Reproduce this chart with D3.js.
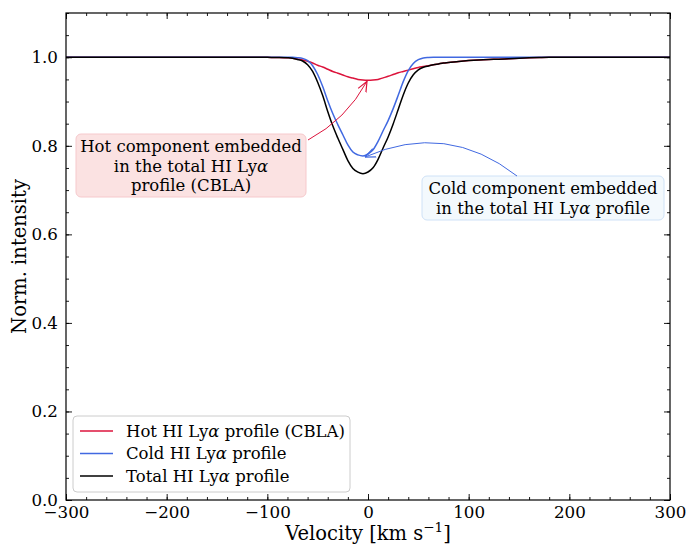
<!DOCTYPE html>
<html>
<head>
<meta charset="utf-8">
<script src="https://cdn.jsdelivr.net/npm/d3@7"></script>
<style>
  html, body { margin: 0; padding: 0; background: #fff; }
  svg text { font-family: "DejaVu Serif", serif !important; fill: #000; }
</style>
</head>
<body>
<svg id="chart" width="686" height="544"></svg>
<script>
// Velocity grid (km/s) and normalised Ly-alpha intensities
const velocity = [-300, -200, -150, -120, -100, -90, -80, -75, -70, -65, -60, -55, -50, -45, -40, -35, -30, -25, -20, -15, -10, -5, 0, 5, 10, 15, 20, 25, 30, 35, 40, 45, 50, 55, 60, 65, 70, 75, 80, 90, 100, 110, 120, 130, 140, 150, 160, 170, 180, 200, 300];

const hotProfile = [1.0, 1.0, 1.0, 1.0, 0.9998, 0.9995, 0.9988, 0.998, 0.996, 0.994, 0.991, 0.987, 0.982, 0.978, 0.973, 0.968, 0.964, 0.960, 0.956, 0.953, 0.950, 0.9485, 0.948, 0.9485, 0.950, 0.9535, 0.957, 0.961, 0.965, 0.968, 0.971, 0.974, 0.977, 0.979, 0.981, 0.983, 0.985, 0.987, 0.988, 0.9905, 0.9925, 0.994, 0.995, 0.9957, 0.9968, 0.9978, 0.9988, 0.9995, 1.0, 1.0, 1.0];

const coldProfile = [1.0, 1.0, 1.0, 1.0, 1.0, 1.0, 1.0, 0.9998, 0.9991, 0.9975, 0.9922, 0.981, 0.961, 0.934, 0.902, 0.873, 0.848, 0.825, 0.802, 0.786, 0.7795, 0.777, 0.7815, 0.791, 0.810, 0.834, 0.857, 0.884, 0.914, 0.945, 0.970, 0.986, 0.9945, 0.9985, 0.9995, 1.0, 1.0, 1.0, 1.0, 1.0, 1.0, 1.0, 1.0, 1.0, 1.0, 1.0, 1.0, 1.0, 1.0, 1.0, 1.0];

const totalProfile = [1.0, 1.0, 1.0, 1.0, 0.9998, 0.9995, 0.9988, 0.9978, 0.9951, 0.9915, 0.9833, 0.9682, 0.9437, 0.9135, 0.8776, 0.8451, 0.8175, 0.792, 0.7667, 0.749, 0.7405, 0.737, 0.7409, 0.7503, 0.7695, 0.7952, 0.8201, 0.8495, 0.882, 0.9148, 0.9419, 0.9604, 0.9716, 0.9775, 0.9805, 0.983, 0.985, 0.987, 0.988, 0.9905, 0.9925, 0.994, 0.995, 0.9957, 0.9968, 0.9978, 0.9988, 0.9995, 1.0, 1.0, 1.0];

const xTicks = [-300, -200, -100, 0, 100, 200, 300];
const yTicks = [0.0, 0.2, 0.4, 0.6, 0.8, 1.0];

const seriesNames = ["Hot HI Ly", "Cold HI Ly", "Total HI Ly"];
const seriesSuffix = [" profile (CBLA)", " profile", " profile"];
const seriesColors = ["#dc143c", "#4169e1", "#000000"];

const svg = d3.select("#chart");
const margin = {left: 66, right: 16, top: 13, bottom: 44};
const W = 686, H = 544;

const x = d3.scaleLinear().domain([-300, 300]).range([margin.left, W - margin.right]);
const y = d3.scaleLinear().domain([0, 1.1]).range([H - margin.bottom, margin.top]);

const fontTick = 16.7;
const fontText = 16.5;
const fontLabel = 19.5;

// Profiles
const line = d3.line().x((d, i) => x(velocity[i])).y(d => y(d)).curve(d3.curveMonotoneX);
svg.append("clipPath").attr("id", "plotclip").append("rect")
  .attr("x", margin.left).attr("y", margin.top)
  .attr("width", W - margin.left - margin.right).attr("height", H - margin.top - margin.bottom);

const curves = svg.append("g").attr("clip-path", "url(#plotclip)");
[hotProfile, coldProfile, totalProfile].forEach((vals, k) => {
  curves.append("path").datum(vals)
    .attr("d", line)
    .attr("fill", "none")
    .attr("stroke", seriesColors[k])
    .attr("stroke-width", 1.5);
});

// Axes with inward ticks on all four sides
function addAxis(axisGen, transform) {
  const g = svg.append("g").attr("transform", transform).call(axisGen);
  g.select(".domain").remove();
  g.selectAll("line").attr("stroke", "#000").attr("stroke-width", 0.9);
  g.selectAll("text").attr("font-size", fontTick).style("font-family", "'DejaVu Serif', serif").attr("fill", "#000");
  return g;
}
const xMinor = d3.range(-300, 301, 20);
const yMinor = d3.range(0, 1.1001, 0.05);
const bottomY = H - margin.bottom, rightX = W - margin.right;

addAxis(d3.axisBottom(x).tickValues(xMinor).tickSize(-3).tickFormat(""), `translate(0,${bottomY})`);
addAxis(d3.axisTop(x).tickValues(xMinor).tickSize(-3).tickFormat(""), `translate(0,${margin.top})`);
addAxis(d3.axisLeft(y).tickValues(yMinor).tickSize(-3).tickFormat(""), `translate(${margin.left},0)`);
addAxis(d3.axisRight(y).tickValues(yMinor).tickSize(-3).tickFormat(""), `translate(${rightX},0)`);

const fmtX = v => (v < 0 ? "\u2212" + Math.abs(v) : String(v));
addAxis(d3.axisBottom(x).tickValues(xTicks).tickSize(-6).tickPadding(6).tickFormat(fmtX), `translate(0,${bottomY})`);
addAxis(d3.axisTop(x).tickValues(xTicks).tickSize(-6).tickFormat(""), `translate(0,${margin.top})`);
addAxis(d3.axisLeft(y).tickValues(yTicks).tickSize(-6).tickPadding(8).tickFormat(d3.format(".1f")), `translate(${margin.left},0)`);
addAxis(d3.axisRight(y).tickValues(yTicks).tickSize(-6).tickFormat(""), `translate(${rightX},0)`);

// Frame
svg.append("rect")
  .attr("x", margin.left).attr("y", margin.top)
  .attr("width", W - margin.left - margin.right).attr("height", H - margin.top - margin.bottom)
  .attr("fill", "none").attr("stroke", "#000").attr("stroke-width", 1.2);

// Axis titles
const xt = svg.append("text").attr("x", x(0)).attr("y", 540).attr("text-anchor", "middle").attr("font-size", fontLabel);
xt.append("tspan").text("Velocity [km s");
xt.append("tspan").attr("dy", -8).attr("font-size", 13.5).text("\u22121");
xt.append("tspan").attr("dy", 8).text("]");

svg.append("text")
  .attr("transform", `translate(26,${(margin.top + bottomY) / 2}) rotate(-90)`)
  .attr("text-anchor", "middle").attr("font-size", fontLabel)
  .text("Norm. intensity");

// Arrow markers
const defs = svg.append("defs");
function marker(id, color) {
  defs.append("marker").attr("id", id)
    .attr("viewBox", "0 0 10 10").attr("refX", 9.5).attr("refY", 5)
    .attr("markerWidth", 11).attr("markerHeight", 11).attr("markerUnits", "userSpaceOnUse")
    .attr("orient", "auto")
    .append("path").attr("d", "M0,1 L9.5,5 L0,9").attr("fill", "none")
    .attr("stroke", color).attr("stroke-width", 1.1);
}
marker("arrHot", seriesColors[0]);
marker("arrCold", seriesColors[1]);

const hotMin = {v: 0, val: d3.min(hotProfile)};
const coldMin = {v: -5, val: d3.min(coldProfile)};

// Annotation boxes
function annotation(cx, lines, fill, stroke, topY, boxW, boxH) {
  const g = svg.append("g");
  g.append("rect").attr("x", cx - boxW / 2).attr("y", topY).attr("width", boxW).attr("height", boxH)
    .attr("rx", 5).attr("fill", fill).attr("stroke", stroke).attr("stroke-width", 1);
  const t = g.append("text").attr("text-anchor", "middle").attr("font-size", fontText);
  lines.forEach((ln, i) => {
    const ts = t.append("tspan").attr("x", cx).attr("y", topY + 18 + i * 19.5);
    ln.forEach(part => {
      const p = ts.append("tspan").text(part[0]);
      if (part[1]) p.attr("font-style", "italic");
    });
  });
  return g;
}

annotation(191, [[["Hot component embedded"]], [["in the total HI Ly"], ["\u03b1", true]], [["profile (CBLA)"]]],
  "#fbe2e2", "#f6c9cc", 134, 230, 63);
annotation(543, [[["Cold component embedded"]], [["in the total HI Ly"], ["\u03b1", true], [" profile"]]],
  "#f3f9fd", "#cfe2f7", 176, 242, 44);

// Curved connectors
function arc(x0, y0, x1, y1, rad) {
  const mx = (x0 + x1) / 2, my = (y0 + y1) / 2;
  const dx = x1 - x0, dy = y1 - y0;
  const cx = mx + rad * dy, cy = my - rad * dx;
  return `M${x0},${y0} Q${cx},${cy} ${x1},${y1}`;
}
svg.append("path")
  .attr("d", arc(308, 140, x(hotMin.v) - 1, y(hotMin.val) + 1, -0.15))
  .attr("fill", "none").attr("stroke", seriesColors[0]).attr("stroke-width", 1)
  .attr("marker-end", "url(#arrHot)");
svg.append("path")
  .attr("d", arc(517, 176, x(coldMin.v) + 2, y(coldMin.val) + 1, -0.3))
  .attr("fill", "none").attr("stroke", seriesColors[1]).attr("stroke-width", 1)
  .attr("marker-end", "url(#arrCold)");

// Legend
const lg = svg.append("g");
lg.append("rect").attr("x", 73).attr("y", 416).attr("width", 277).attr("height", 76)
  .attr("rx", 4).attr("fill", "#fff").attr("stroke", "#cccccc").attr("stroke-width", 1);
seriesNames.forEach((nm, i) => {
  const yy = 431 + i * 22.5;
  lg.append("line").attr("x1", 80).attr("x2", 113).attr("y1", yy).attr("y2", yy)
    .attr("stroke", seriesColors[i]).attr("stroke-width", 1.5);
  const t = lg.append("text").attr("x", 126).attr("y", yy + 5.5).attr("font-size", fontText);
  t.append("tspan").text(nm);
  t.append("tspan").attr("font-style", "italic").text("\u03b1");
  t.append("tspan").text(seriesSuffix[i]);
});
</script>
</body>
</html>
